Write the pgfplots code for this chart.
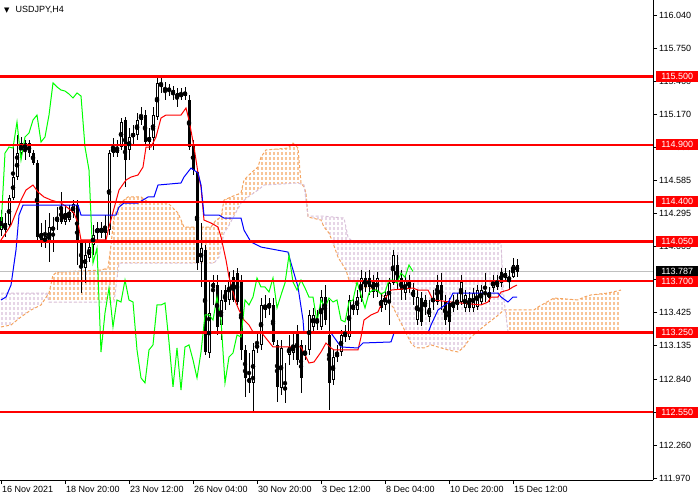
\documentclass[border=0pt]{standalone}
\usepackage{fontspec}
\setmainfont{Liberation Sans}
\newfontfamily\dejavu{DejaVu Sans}
\usepackage{pgfplots}
\pgfplotsset{compat=1.18}
\usepackage{pgfplotstable}
\usepgfplotslibrary{fillbetween}
\usetikzlibrary{patterns.meta}

\definecolor{sandy}{RGB}{244,164,96}
\definecolor{thist}{RGB}{216,191,216}
\definecolor{limeg}{RGB}{0,255,0}
\definecolor{bidgray}{RGB}{192,192,192}

% dotted vertical hatching of the Ichimoku cloud
\tikzdeclarepattern{
  name=hatch,
  type=uncolored,
  bounding box={(1.3pt,0pt) and (2.7pt,3pt)},
  tile size={(4pt,5pt)},
  code={\draw[line width=1.3pt] (2pt,0pt) -- (2pt,3pt);}
}

% USDJPY H4 candles: x (px), open, high, low, close
\pgfplotstableread{
x o h l c
0 114.150 114.326 114.098 114.265
4 114.150 114.300 114.089 114.212
8 114.194 114.458 114.168 114.432
12 114.432 114.880 114.414 114.616
16 114.616 114.985 114.590 114.827
20 114.827 114.968 114.792 114.915
24 114.854 114.942 114.766 114.915
28 114.915 114.942 114.792 114.827
32 114.827 114.854 114.722 114.739
36 114.739 114.766 114.063 114.089
40 114.063 114.212 114.001 114.124
44 114.036 114.238 113.992 114.098
48 114.045 114.300 113.869 114.177
52 114.150 114.265 113.957 114.177
56 114.221 114.352 114.150 114.265
60 114.352 114.485 114.203 114.221
64 114.221 114.370 114.194 114.300
68 114.238 114.370 114.221 114.309
72 114.300 114.414 114.256 114.379
76 114.370 114.414 113.843 114.045
80 114.045 114.063 113.597 113.816
84 113.816 114.063 113.685 113.931
88 113.904 114.063 113.869 114.001
92 114.019 114.194 113.931 114.106
96 114.168 114.221 114.063 114.124
100 114.124 114.221 114.080 114.168
104 114.124 114.282 114.063 114.168
108 114.150 114.854 114.106 114.827
112 114.827 114.959 114.792 114.880
116 114.827 114.942 114.792 114.871
120 114.880 115.135 114.854 115.100
124 115.117 115.144 114.529 114.766
128 114.854 115.047 114.766 114.968
132 114.968 115.073 114.898 115.003
136 114.985 115.179 114.942 115.117
140 115.117 115.231 115.073 115.161
144 115.161 115.205 114.898 114.924
148 114.924 115.047 114.854 114.968
152 114.959 115.231 114.854 115.161
156 115.144 115.487 115.117 115.443
160 115.443 115.513 115.355 115.408
164 115.399 115.451 115.293 115.381
168 115.399 115.434 115.328 115.372
172 115.381 115.416 115.293 115.346
176 115.355 115.399 115.231 115.311
180 115.320 115.399 115.293 115.355
184 115.364 115.408 115.293 115.328
188 115.293 115.337 114.854 114.880
192 114.898 114.942 114.634 114.678
196 114.660 114.695 113.799 113.860
200 113.869 114.212 113.650 113.992
204 113.975 114.019 113.053 113.079
208 113.070 113.711 113.026 113.422
212 113.685 113.755 113.492 113.641
216 113.667 113.755 113.228 113.299
220 113.316 113.623 113.185 113.536
224 113.623 113.667 113.448 113.518
228 113.536 113.781 113.492 113.711
232 113.737 113.799 113.518 113.536
236 113.773 113.816 113.492 113.518
240 113.711 113.755 113.009 113.097
244 113.097 113.141 112.684 112.851
248 112.851 113.070 112.719 112.807
252 112.807 113.158 112.543 113.097
256 113.114 113.246 113.070 113.141
260 113.141 113.553 113.097 113.492
264 113.448 113.579 113.378 113.492
268 113.466 113.553 113.404 113.510
272 113.492 113.553 113.141 113.167
276 113.141 113.185 112.639 112.772
280 112.763 113.185 112.701 113.114
284 112.772 112.982 112.631 112.745
288 113.053 113.228 112.965 113.123
292 113.070 113.246 113.009 113.141
296 113.246 113.316 112.965 113.009
300 113.141 113.185 112.719 112.851
304 113.053 113.141 113.009 113.079
308 113.097 113.448 113.053 113.404
312 113.299 113.466 113.255 113.404
316 113.334 113.448 113.272 113.360
320 113.299 113.623 113.272 113.562
324 113.562 113.667 113.316 113.360
328 113.228 113.536 112.569 112.807
332 112.833 113.097 112.789 113.035
336 113.035 113.141 112.991 113.070
340 113.079 113.272 113.044 113.228
344 113.246 113.316 113.167 113.211
348 113.211 113.579 113.185 113.536
352 113.448 113.553 113.404 113.492
356 113.448 113.623 113.404 113.562
360 113.553 113.799 113.518 113.729
364 113.729 113.781 113.606 113.650
368 113.729 113.799 113.579 113.650
372 113.711 113.755 113.553 113.606
376 113.606 113.781 113.562 113.729
380 113.536 113.597 113.431 113.466
384 113.492 113.623 113.448 113.579
388 113.510 113.729 113.316 113.685
392 113.685 113.975 113.667 113.931
396 113.843 113.931 113.623 113.693
400 113.729 113.799 113.536 113.623
404 113.597 113.755 113.536 113.711
408 113.711 113.755 113.597 113.641
412 113.623 113.685 113.492 113.562
416 113.360 113.623 113.316 113.562
420 113.553 113.606 113.308 113.343
424 113.474 113.579 113.404 113.536
428 113.387 113.536 113.343 113.466
432 113.518 113.623 113.448 113.553
436 113.667 113.755 113.492 113.518
440 113.667 113.773 113.448 113.536
444 113.518 113.579 113.316 113.360
448 113.510 113.553 113.246 113.343
452 113.466 113.579 113.431 113.518
456 113.492 113.597 113.448 113.536
460 113.518 113.755 113.492 113.693
464 113.466 113.623 113.431 113.579
468 113.553 113.606 113.431 113.466
472 113.466 113.641 113.431 113.597
476 113.474 113.667 113.448 113.623
480 113.518 113.667 113.492 113.623
484 113.606 113.773 113.518 113.588
488 113.553 113.650 113.518 113.606
492 113.641 113.755 113.606 113.711
496 113.650 113.755 113.623 113.711
500 113.781 113.816 113.650 113.685
504 113.729 113.816 113.693 113.773
508 113.711 113.799 113.623 113.737
512 113.737 113.904 113.729 113.843
516 113.843 113.895 113.737 113.787
}\candles

\begin{document}
\begin{tikzpicture}
\begin{axis}[
  at={(0pt,0pt)}, anchor=south west,
  scale only axis, width=653pt, height=480pt,
  xmin=-1, xmax=652, ymin=111.954, ymax=116.172,
  axis x line*=bottom, axis y line*=right,
  axis line style={line width=1pt},
  tick align=outside, major tick length=4pt,
  tick style={black, line width=1pt},
  xtick={0,64,128,192,256,320,384,448,512},
  xticklabels={16 Nov 2021,18 Nov 20:00,23 Nov 12:00,26 Nov 04:00,30 Nov 20:00,3 Dec 12:00,8 Dec 04:00,10 Dec 20:00,15 Dec 12:00},
  xticklabel style={anchor=north west, inner xsep=1pt, inner ysep=2pt, font=\fontsize{9}{10}\selectfont},
  ytick={111.97,112.26,112.55,112.84,113.135,113.425,113.715,114.005,114.295,114.585,114.88,115.17,115.46,115.75,116.04},
  yticklabels={111.970,112.260,112.550,112.840,113.135,113.425,113.715,114.005,114.295,114.585,114.880,115.170,115.460,115.750,116.040},
  yticklabel style={anchor=west, inner xsep=2pt, font=\fontsize{9}{10}\selectfont},
]
% Ichimoku cloud (Senkou Span A and B)
\addplot[name path=A, draw=sandy, line width=1pt, dash pattern=on 3pt off 2pt, forget plot] coordinates {
(0,113.299) (10,113.316) (20,113.387) (30,113.448) (40,113.492) (48,113.597) (52,113.755) (56,113.781)
(100,113.799) (107,113.816) (110,114.019) (113,114.265) (118,114.370) (123,114.414) (127,114.441)
(140,114.441) (147,114.397) (167,114.388) (177,114.300) (183,114.177) (210,114.177) (215,114.238)
(220,114.265) (223,114.414) (230,114.441) (240,114.476) (243,114.590) (250,114.652) (257,114.704)
(260,114.792) (265,114.854) (287,114.871) (292,114.915) (297,114.871) (300,114.564) (303,114.529)
(305,114.476) (307,114.265) (320,114.238) (323,114.177) (328,114.124) (332,114.036) (337,113.913)
(340,113.869) (345,113.799) (348,113.711) (363,113.650) (377,113.623) (385,113.536) (392,113.474)
(400,113.334) (410,113.158) (415,113.114) (423,113.114) (430,113.141) (447,113.097) (457,113.079)
(463,113.123) (470,113.211) (487,113.334) (495,113.387) (503,113.448) (533,113.448) (537,113.474)
(553,113.553) (577,113.536) (583,113.562) (590,113.580) (607,113.597) (620,113.623)};
\addplot[name path=B, draw=thist, line width=1pt, dash pattern=on 3pt off 2pt, forget plot] coordinates {
(0,113.597) (46,113.597) (48,113.518) (113,113.518) (118,113.860) (213,113.860) (218,113.913)
(223,114.124) (227,114.177) (240,114.388) (247,114.441) (257,114.502) (263,114.546) (297,114.564)
(303,114.546) (307,114.273) (322,114.273) (343,114.256) (347,114.089) (353,114.036) (500,114.036)
(503,113.536) (507,113.255) (620,113.255)};
\addplot[pattern=hatch, pattern color=thist, draw=none] fill between[of=A and B, soft clip={domain=0:47}];
\addplot[pattern=hatch, pattern color=sandy, draw=none] fill between[of=A and B, soft clip={domain=47:301}];
\addplot[pattern=hatch, pattern color=thist, draw=none] fill between[of=A and B, soft clip={domain=301:505}];
\addplot[pattern=hatch, pattern color=sandy, draw=none] fill between[of=A and B, soft clip={domain=505:620}];

% bid line
\addplot[bidgray, line width=1pt] coordinates {(-1,113.787) (652,113.787)};

% candles: wicks, bodies, hollow inside of rising bodies
\addplot[only marks, mark=none, error bars/.cd, y dir=both, y explicit, error mark=none,
  error bar style={draw=black, line width=1pt}]
  table[x=x, y expr={(\thisrow{h}+\thisrow{l})/2}, y error expr={(\thisrow{h}-\thisrow{l})/2}] {\candles};
\addplot[only marks, mark=none, error bars/.cd, y dir=both, y explicit, error mark=none,
  error bar style={draw=black, line width=3pt}]
  table[x=x, y expr={(\thisrow{o}+\thisrow{c})/2}, y error expr={max(abs(\thisrow{c}-\thisrow{o})/2,0.0045)}] {\candles};
\addplot[only marks, mark=none, restrict expr to domain={\thisrow{c}-\thisrow{o}}{0.02:10},
  error bars/.cd, y dir=both, y explicit, error mark=none,
  error bar style={draw=white, line width=1pt}]
  table[x=x, y expr={(\thisrow{o}+\thisrow{c})/2}, y error expr={(\thisrow{c}-\thisrow{o})/2-0.0088}] {\candles};

% Tenkan-sen
\addplot[red, line width=1pt] coordinates {
(0,114.063) (10,114.194) (20,114.414) (25,114.502) (32,114.546) (37,114.485) (43,114.441) (50,114.414)
(60,114.388) (67,114.344) (73,114.300) (77,114.212) (80,114.063) (105,114.063) (108,114.177)
(118,114.502) (125,114.590) (130,114.616) (137,114.634) (142,114.704) (145,114.880) (150,114.880)
(155,114.968) (160,115.135) (165,115.161) (180,115.161) (185,115.223) (188,115.117) (193,114.880)
(197,114.652) (200,114.529) (203,114.238) (210,114.212) (217,114.177) (220,114.089) (225,113.887)
(228,113.737) (235,113.510) (238,113.448) (243,113.360) (248,113.316) (252,113.255) (260,113.255)
(272,113.123) (300,113.123) (308,112.982) (313,112.991) (320,113.079) (325,113.158) (330,113.114)
(333,113.097) (357,113.097) (360,113.211) (363,113.360) (370,113.404) (377,113.431) (380,113.492)
(383,113.536) (390,113.623) (412,113.641) (417,113.623) (427,113.623) (432,113.536) (450,113.518)
(480,113.492) (487,113.518) (490,113.562) (497,113.562) (500,113.606) (507,113.623) (512,113.650)
(516,113.667)};
% Kijun-sen
\addplot[blue, line width=1pt] coordinates {
(0,113.536) (5,113.562) (10,113.667) (15,113.975) (18,114.282) (22,114.370) (77,114.370) (80,114.282)
(115,114.282) (118,114.352) (123,114.388) (137,114.388) (147,114.441) (153,114.441) (157,114.546)
(180,114.564) (183,114.616) (190,114.695) (197,114.652) (200,114.546) (203,114.282) (218,114.282)
(223,114.256) (240,114.256) (243,114.150) (250,114.045) (260,114.001) (287,113.957) (290,113.860)
(297,113.650) (302,113.360) (303,113.246) (330,113.246) (340,113.123) (357,113.114) (362,113.158)
(390,113.167) (393,113.246) (427,113.246) (430,113.316) (437,113.448) (447,113.510) (452,113.597)
(497,113.597) (500,113.562) (507,113.518) (512,113.562) (516,113.562)};
% Chikou span
\addplot[limeg, line width=1pt] coordinates {
(0,114.168) (4,114.827) (8,114.880) (12,114.871) (16,115.100) (20,114.766) (24,114.968) (28,115.003)
(32,115.117) (36,115.161) (40,114.924) (44,114.968) (48,115.161) (52,115.443) (56,115.408) (60,115.381)
(64,115.372) (68,115.346) (72,115.311) (76,115.355) (80,115.328) (84,114.880) (88,114.678) (92,113.860)
(96,113.992) (100,113.079) (104,113.422) (108,113.641) (112,113.299) (116,113.536) (120,113.518)
(124,113.711) (128,113.536) (132,113.518) (136,113.097) (140,112.851) (144,112.807) (148,113.097)
(152,113.141) (156,113.492) (160,113.492) (164,113.510) (168,113.167) (172,112.772) (176,113.114)
(180,112.745) (184,113.123) (188,113.141) (192,113.009) (196,112.851) (200,113.079) (204,113.404)
(208,113.404) (212,113.360) (216,113.562) (220,113.360) (224,112.807) (228,113.035) (232,113.070)
(236,113.228) (240,113.211) (244,113.536) (248,113.492) (252,113.562) (256,113.729) (260,113.650)
(264,113.650) (268,113.606) (272,113.729) (276,113.466) (280,113.579) (284,113.685) (288,113.931)
(292,113.693) (296,113.623) (300,113.711) (304,113.641) (308,113.562) (312,113.562) (316,113.343)
(320,113.536) (324,113.466) (328,113.553) (332,113.518) (336,113.536) (340,113.360) (344,113.343)
(348,113.518) (352,113.536) (356,113.693) (360,113.579) (364,113.466) (368,113.597) (372,113.623)
(376,113.623) (380,113.588) (384,113.606) (388,113.711) (392,113.711) (396,113.685) (400,113.773)
(404,113.737) (408,113.843) (412,113.787)};

% horizontal levels
\pgfplotsinvokeforeach{115.5,114.9,114.4,114.05,113.7,113.25,112.55}{
  \addplot[red, line width=2.2pt] coordinates {(-1,#1) (652,#1)};
}
\coordinate (r1) at (axis cs:652,115.500);
\coordinate (r2) at (axis cs:652,114.900);
\coordinate (r3) at (axis cs:652,114.400);
\coordinate (r4) at (axis cs:652,114.050);
\coordinate (r5) at (axis cs:652,113.700);
\coordinate (r6) at (axis cs:652,113.250);
\coordinate (r7) at (axis cs:652,112.550);
\coordinate (rb) at (axis cs:652,113.787);

\node[anchor=west, inner sep=0pt, font=\fontsize{9}{10}\selectfont, xshift=4pt, yshift=-10pt]
  at (rel axis cs:0,1) {{\dejavu\fontsize{7}{7}\selectfont ▼}\hspace{6pt}USDJPY,H4};
\end{axis}
\tikzset{lvl/.style={anchor=west, fill=red, text=white, font=\fontsize{9}{10}\selectfont,
  minimum width=42pt, minimum height=11pt, inner sep=0pt}}
\node[lvl, fill=black] at ([xshift=3pt]rb) {113.787};
\node[lvl] at ([xshift=3pt]r1) {115.500};
\node[lvl] at ([xshift=3pt]r2) {114.900};
\node[lvl] at ([xshift=3pt]r3) {114.400};
\node[lvl] at ([xshift=3pt]r4) {114.050};
\node[lvl] at ([xshift=3pt]r5) {113.700};
\node[lvl] at ([xshift=3pt]r6) {113.250};
\node[lvl] at ([xshift=3pt]r7) {112.550};
\pgfresetboundingbox
\path (0pt,-20pt) rectangle (700pt,480pt);
\end{tikzpicture}
\end{document}
